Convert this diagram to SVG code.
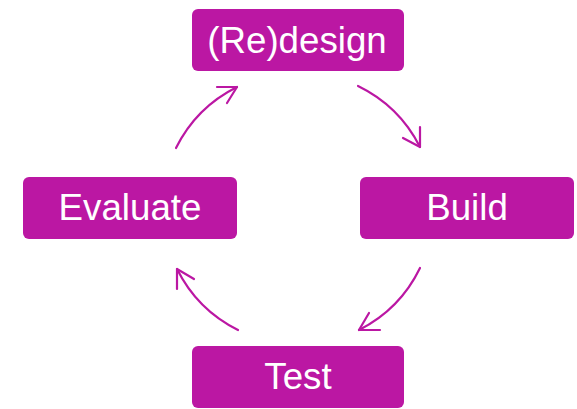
<svg xmlns="http://www.w3.org/2000/svg" width="577" height="409" viewBox="0 0 577 409">
<style>
.box{fill:#BB17A3;}
.lbl{fill:#fff;font-family:"Liberation Sans",Arial,sans-serif;font-size:36.7px;text-anchor:middle;}
.arc{fill:none;stroke:#BB17A3;stroke-width:2.2;stroke-linecap:round;stroke-linejoin:round;}
</style>
<rect width="577" height="409" fill="#fff"/>
<g id="redesign"><rect class="box" x="192" y="9" width="212" height="62" rx="6"/><text class="lbl" x="297" y="52.5">(Re)design</text></g>
<g id="build"><rect class="box" x="360" y="177" width="214" height="62" rx="6"/><text class="lbl" x="467" y="220">Build</text></g>
<g id="test"><rect class="box" x="192" y="346" width="212" height="62" rx="6"/><text class="lbl" x="298" y="389">Test</text></g>
<g id="evaluate"><rect class="box" x="23" y="177" width="214" height="62" rx="6"/><text class="lbl" x="130" y="220">Evaluate</text></g>
<g id="connectors">
<path class="arc" d="M358,86 A136,136 0 0 1 420,147"/>
<polyline class="arc" points="420,127 420,147 403,138"/>
<path class="arc" d="M420,268 A136,136 0 0 1 359,330"/>
<polyline class="arc" points="369,313 359,330 380,330"/>
<path class="arc" d="M238,330 A136,136 0 0 1 177,269"/>
<polyline class="arc" points="177,289 177,269 194,279"/>
<path class="arc" d="M176,148 A136,136 0 0 1 237,87"/>
<polyline class="arc" points="217,87 237,87 227,103"/>
</g>
</svg>
